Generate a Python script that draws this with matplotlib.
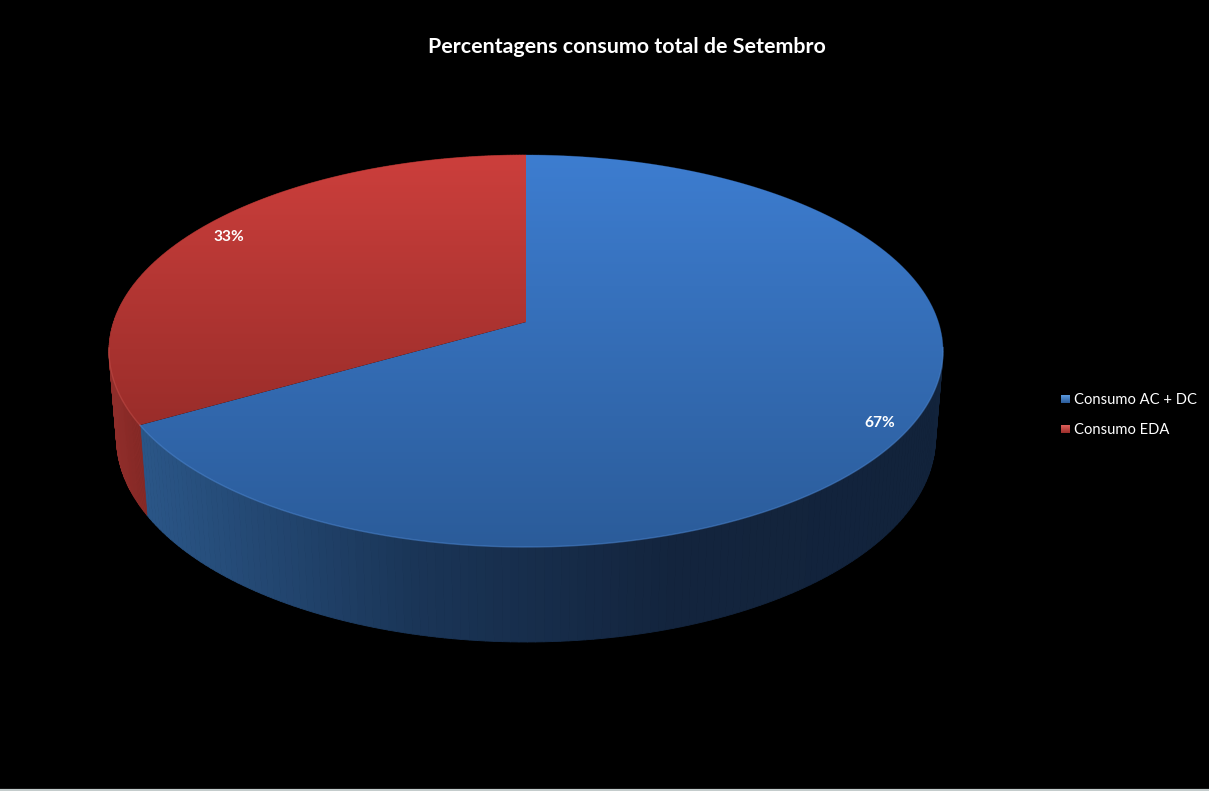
import matplotlib
matplotlib.use("Agg")
import matplotlib.pyplot as plt
from matplotlib.collections import PolyCollection
from matplotlib.colors import LinearSegmentedColormap
from matplotlib.patches import Polygon
import numpy as np

title = "Percentagens consumo total de Setembro"
categories = ["Consumo AC + DC", "Consumo EDA"]
values = [66.7, 33.3]

# pie shape in pixels, k gives the perspective
CX, CY = 526, 322
A, B, K = 412.4, 191.7, 0.148
DEPTH0, DEPTH1, SHRINK = 85.7, 0.0413, 0.982

TOP_COLORS = [("#3d7dd0", "#2b5c9a"), ("#cc3f3c", "#9a2d2a")]
SIDE_COLORS = [("#2a5586", "#1a3557", "#13243d", "#12233b"), ("#8f2d2a", "#842825")]
RIM_COLORS = ["#4f8ad6", "#c9504b"]
LEGEND_COLORS = [("#5b9be0", "#2a5a98"), ("#e0605a", "#9a2d2a")]

plt.rcParams["font.family"] = ["Lato", "DejaVu Sans"]


def project(theta, r=1.0):
    # theta runs clockwise from the back of the pie
    x = r * np.sin(theta)
    y = -r * np.cos(theta)
    d = 1 - K * y
    return CX + A * x / d, CY + B * y / d


def project_bottom(theta):
    x, y = project(theta)
    return CX + (x - CX) * SHRINK, y + DEPTH0 + DEPTH1 * (y - CY)


def gradient_fill(ax, poly, colors, extent, vertical=True):
    cmap = LinearSegmentedColormap.from_list("g", colors)
    grad = np.linspace(0, 1, 256)
    grad = grad[:, None] if vertical else grad[None, :]
    im = ax.imshow(grad, cmap=cmap, extent=extent, aspect="auto", zorder=poly.get_zorder(), interpolation="bilinear")
    ax.add_patch(poly)
    im.set_clip_path(poly)


fig = plt.figure(figsize=(12.09, 7.91), dpi=100, facecolor="black")
ax = fig.add_axes([0, 0, 1, 1])
ax.set_facecolor("black")

shares = np.array(values) / sum(values)
edges = np.concatenate([[0], np.cumsum(shares)]) * 2 * np.pi

# side wall first, the top covers its hidden part
for i in range(len(values)):
    th = np.linspace(edges[i], edges[i + 1], 240)
    x0, y0 = project(th)
    x1, y1 = project_bottom(th)
    quads = []
    mids = []
    for j in range(len(th) - 1):
        quads.append([(x0[j], y0[j]), (x0[j + 1], y0[j + 1]), (x1[j + 1], y1[j + 1]), (x1[j], y1[j])])
        mids.append((x0[j] + x0[j + 1]) / 2)
    cmap = LinearSegmentedColormap.from_list("side", SIDE_COLORS[i])
    xmin, xmax = (148, 940) if i == 0 else (110, 150)
    cols = cmap(np.clip((np.array(mids) - xmin) / (xmax - xmin), 0, 1))
    ax.add_collection(PolyCollection(quads, facecolors=cols, edgecolors=cols, linewidths=0.6, zorder=2))

# top face
for i in range(len(values)):
    th = np.linspace(edges[i], edges[i + 1], 400)
    x0, y0 = project(th)
    pts = np.column_stack([np.r_[CX, x0], np.r_[CY, y0]])
    poly = Polygon(pts, closed=True, facecolor="none", edgecolor="none", zorder=3)
    extent = (pts[:, 0].min(), pts[:, 0].max(), pts[:, 1].max(), pts[:, 1].min())
    gradient_fill(ax, poly, TOP_COLORS[i], extent)
    front = y0 > CY + 25
    ax.plot(x0[front], y0[front], color=RIM_COLORS[i], lw=1.0, alpha=0.5, zorder=4)

ax.text(626.5, 47, title, color="white", fontsize=15.4, fontweight="bold", ha="center", va="center", zorder=6)

label_pos = [(880, 423), (229, 237)]
for v, (lx, ly) in zip(values, label_pos):
    ax.text(lx, ly, f"{v:.0f}%", color="white", fontsize=11.2, fontweight="bold", ha="center", va="center", zorder=6)

for i, name in enumerate(categories):
    ly = 399 + i * 30
    sq = Polygon([(1061, ly - 4), (1070, ly - 4), (1070, ly + 4), (1061, ly + 4)], facecolor="none", edgecolor="none", zorder=5)
    gradient_fill(ax, sq, LEGEND_COLORS[i], (1061, 1070, ly + 4, ly - 4))
    ax.text(1074, ly + 1.5, name, color="white", fontsize=10.6, ha="left", va="center", zorder=6)

# light window edge along the bottom
ax.axhline(790.2, color="#c4cccc", lw=1.6, zorder=7)

ax.set_xlim(0, 1209)
ax.set_ylim(791, 0)
ax.axis("off")
fig.savefig("out.png", dpi=100, facecolor="black")
